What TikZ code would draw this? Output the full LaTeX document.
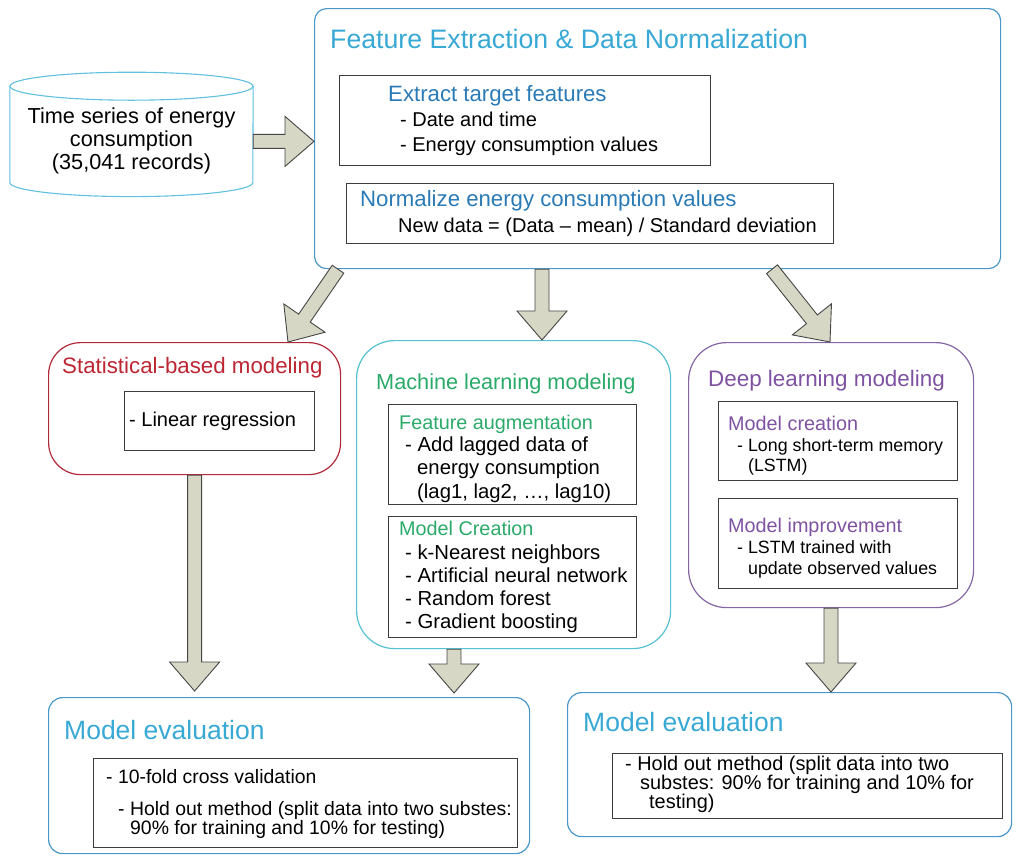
\documentclass[tikz,border=0pt]{standalone}
\usepackage{fontspec}
\setmainfont{Liberation Sans}
\usetikzlibrary{calc}

\definecolor{featline}{RGB}{74,152,201}
\definecolor{titlecyan}{RGB}{56,168,212}
\definecolor{subblue}{RGB}{42,122,182}
\definecolor{statline}{RGB}{178,42,58}
\definecolor{stattext}{RGB}{188,38,50}
\definecolor{mlline}{RGB}{86,193,210}
\definecolor{mltext}{RGB}{42,170,104}
\definecolor{dlline}{RGB}{132,102,162}
\definecolor{dltext}{RGB}{126,82,160}
\definecolor{evalline}{RGB}{74,152,201}
\definecolor{cylline}{RGB}{96,192,222}
\definecolor{innerline}{RGB}{60,60,60}
\definecolor{arrowfill}{RGB}{214,215,196}
\definecolor{arrowline}{RGB}{70,70,70}

\newcommand{\setfs}[2]{\fontsize{#1}{#2}\selectfont}

\tikzstyle{outerbox} = [draw, line width=1.2pt, anchor=north west, inner sep=0pt]
\tikzstyle{innerbox} = [draw=innerline, line width=1.1pt, anchor=north west, inner sep=0pt]
\tikzstyle{txt} = [anchor=base west, inner sep=0pt, align=left]
\tikzstyle{blockarrow} = [draw=arrowline, fill=arrowfill, line width=0.9pt, line join=miter,
	to path={let \p1=($(\tikztotarget)!29pt!(\tikztostart)$) in
		($(\tikztostart)!7pt!90:(\tikztotarget)$)
		-- ($(\p1)!7pt!90:(\tikztotarget)$)
		-- ($(\p1)!25pt!90:(\tikztotarget)$)
		-- (\tikztotarget)
		-- ($(\p1)!25pt!-90:(\tikztotarget)$)
		-- ($(\p1)!7pt!-90:(\tikztotarget)$)
		-- ($(\tikztostart)!7pt!-90:(\tikztotarget)$)
		-- cycle}]

\begin{document}
\begin{tikzpicture}[x=1pt, y=-1pt]
		\useasboundingbox (0,0) rectangle (1017,855);
		% input data
		\node (data) [anchor=center, minimum width=243pt, minimum height=96pt, inner sep=0pt, align=center, font=\setfs{21.7}{23}] at (131.5,140.4) {Time series of energy\\consumption\\(35,041 records)};
		\draw [cylline, line width=1.1pt] ([yshift=6pt]data.north west) -- ([yshift=6pt]data.south west) arc [start angle=180, end angle=360, x radius=121.5pt, y radius=14pt] -- ([yshift=6pt]data.north east);
		\draw [cylline, line width=1.1pt] ([yshift=6pt]data.north) ellipse [x radius=121.5pt, y radius=14pt];
		% feature extraction
		\node (feat) [outerbox, draw=featline, rounded corners=12pt, minimum width=686pt, minimum height=260pt] at (314,8) {};
		\node (feattitle) [txt, text=titlecyan, font=\setfs{26.7}{30}] at (330,48.3) {Feature Extraction \& Data Normalization};
		\node (extract) [innerbox, minimum width=371pt, minimum height=90pt] at (339,75) {};
		\node (extracthead) [txt, text=subblue, font=\setfs{22.2}{26}] at (388,101.7) {Extract target features};
		\node (extractlist) [txt, font=\setfs{20}{25.7}] at (400,151.7) {- Date and time\\- Energy consumption values};
		\node (normal) [innerbox, minimum width=487pt, minimum height=60pt] at (346,183) {};
		\node (normalhead) [txt, text=subblue, font=\setfs{22.2}{26}] at (360,206.7) {Normalize energy consumption values};
		\node (normalformula) [txt, font=\setfs{20}{24}] at (398,232.3) {New data = (Data – mean) / Standard deviation};
		% statistical modeling
		\node (stat) [outerbox, draw=statline, rounded corners=32pt, minimum width=292pt, minimum height=132pt] at (48,342) {};
		\node (stattitle) [txt, text=stattext, font=\setfs{22.3}{26}] at (62,373.3) {Statistical-based modeling};
		\node (linreg) [innerbox, minimum width=190pt, minimum height=59pt] at (124,391) {};
		\node (linregtext) [txt, font=\setfs{20}{24}] at (129,426) {- Linear regression};
		% machine learning modeling
		\node (ml) [outerbox, draw=mlline, rounded corners=38pt, minimum width=314pt, minimum height=308pt] at (356,340) {};
		\node (mltitle) [txt, text=mltext, font=\setfs{21.7}{26}] at (376,389) {Machine learning modeling};
		\node (augment) [innerbox, minimum width=248pt, minimum height=100pt] at (388,404) {};
		\node (augmenthead) [txt, text=mltext, font=\setfs{19.8}{23}] at (399,429) {Feature augmentation};
		\node (augmentlist) [txt, font=\setfs{20.3}{23.2}] at (405,498) {- Add lagged data of\\\hspace*{12pt}energy consumption\\\hspace*{12pt}(lag1, lag2, …, lag10)};
		\node (create) [innerbox, minimum width=248pt, minimum height=121pt] at (388,516) {};
		\node (createhead) [txt, text=mltext, font=\setfs{19.8}{23}] at (399,535) {Model Creation};
		\node (createlist) [txt, font=\setfs{20.3}{23}] at (405,628) {- k-Nearest neighbors\\- Artificial neural network\\- Random forest\\- Gradient boosting};
		% deep learning modeling
		\node (dl) [outerbox, draw=dlline, rounded corners=38pt, minimum width=285pt, minimum height=265pt] at (688,342) {};
		\node (dltitle) [txt, text=dltext, font=\setfs{22.4}{26}] at (708,386) {Deep learning modeling};
		\node (lstm) [innerbox, minimum width=239pt, minimum height=79pt] at (718,401) {};
		\node (lstmhead) [txt, text=dltext, font=\setfs{19.8}{23}] at (728,430) {Model creation};
		\node (lstmlist) [txt, font=\setfs{17.8}{20}] at (737,471.7) {- Long short-term memory\\\hspace*{10.9pt}(LSTM)};
		\node (improve) [innerbox, minimum width=239pt, minimum height=90pt] at (718,498) {};
		\node (improvehead) [txt, text=dltext, font=\setfs{19.8}{23}] at (728,532.7) {Model improvement};
		\node (improvelist) [txt, font=\setfs{17.8}{20.7}] at (737,574) {- LSTM trained with\\\hspace*{10.9pt}update observed values};
		% evaluation
		\node (evalA) [outerbox, draw=evalline, rounded corners=14pt, minimum width=481pt, minimum height=156pt] at (48,697) {};
		\node (evalAtitle) [txt, text=titlecyan, font=\setfs{26.5}{30}] at (64,739) {Model evaluation};
		\node (evalAbox) [innerbox, minimum width=424pt, minimum height=89pt] at (93,758) {};
		\node (evalAlist1) [txt, font=\setfs{19.4}{23}] at (106,783) {- 10-fold cross validation};
		\node (evalAlist2) [txt, font=\setfs{19.4}{18.3}] at (118,834) {- Hold out method (split data into two substes:\\\hspace*{12pt}90\% for training and 10\% for testing)};
		\node (evalB) [outerbox, draw=evalline, rounded corners=14pt, minimum width=444pt, minimum height=144pt] at (567,692) {};
		\node (evalBtitle) [txt, text=titlecyan, font=\setfs{26.5}{30}] at (583,731.7) {Model evaluation};
		\node (evalBbox) [innerbox, minimum width=390pt, minimum height=65pt] at (612,753) {};
		\node (evalBlist) [txt, font=\setfs{19.9}{18.7}] at (625,808) {- Hold out method (split data into two\\\hspace*{15pt}substes: 90\% for training and 10\% for\\\hspace*{24pt}testing)};
		% arrows
		\coordinate (dataout) at ([yshift=-1pt]data.east);
		\coordinate (featin) at (feat.west |- dataout);
		\coordinate (featout1) at ([xshift=24pt]feat.south west);
		\coordinate (statin) at ([xshift=240pt]stat.north west);
		\coordinate (featout2) at ([xshift=228pt]feat.south west);
		\coordinate (mlin) at (ml.north -| featout2);
		\coordinate (featout3) at ([xshift=458pt]feat.south west);
		\coordinate (dlin) at ([xshift=142pt]dl.north west);
		\coordinate (statout) at (stat.south);
		\coordinate (evalAin1) at ($(evalA.north -| statout)+(0,-6)$);
		\coordinate (mlout) at ([xshift=98pt]ml.south west);
		\coordinate (evalAin2) at ($(evalA.north -| mlout)+(0,-4)$);
		\coordinate (dlout) at ([xshift=143pt]dl.south west);
		\coordinate (evalBin) at (evalB.north -| dlout);
		\path [blockarrow] (dataout) to (featin);
		\path [blockarrow] (featout1) to (statin);
		\path [blockarrow] (featout2) to (mlin);
		\path [blockarrow] (featout3) to (dlin);
		\path [blockarrow] (statout) to (evalAin1);
		\path [blockarrow] (mlout) to (evalAin2);
		\path [blockarrow] (dlout) to (evalBin);
	\end{tikzpicture}
\end{document}
